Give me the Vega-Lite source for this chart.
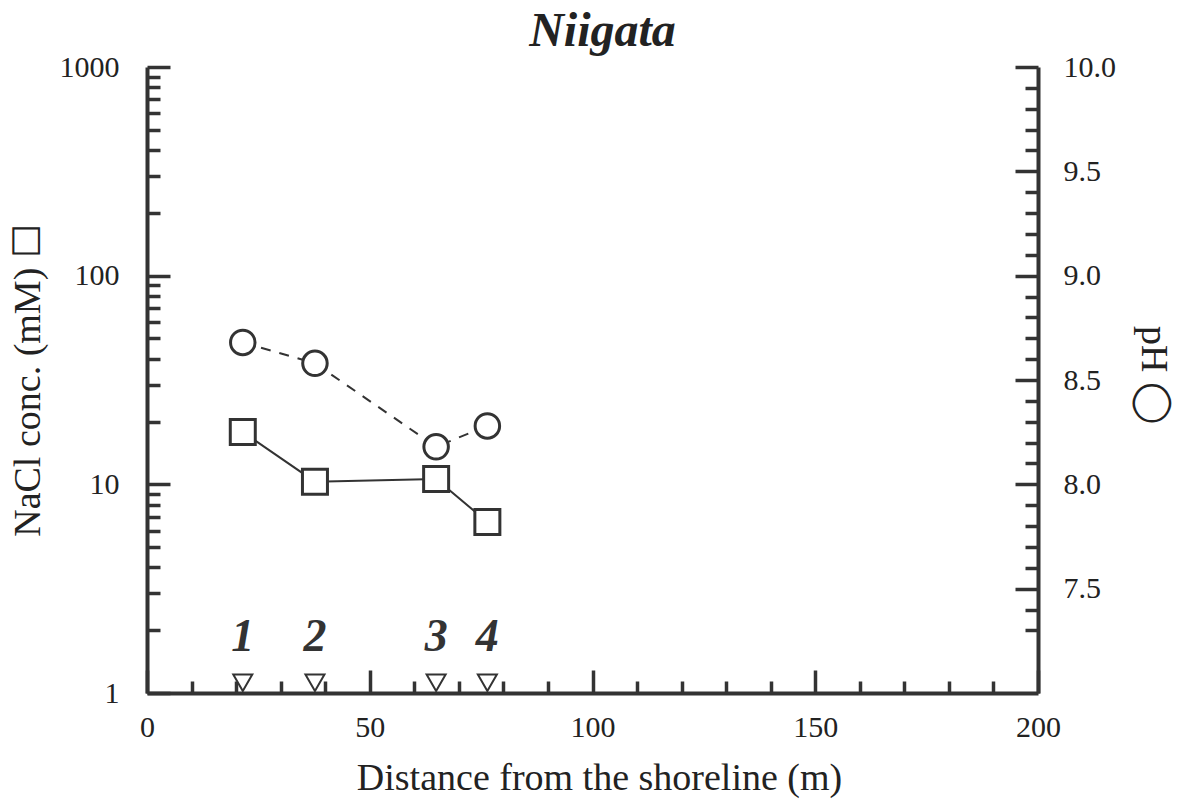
{
  "$schema": "https://vega.github.io/schema/vega-lite/v6.json",
  "width": 891,
  "height": 626,
  "autosize": "none",
  "padding": {"left": 147, "top": 67, "right": 139, "bottom": 116},
  "title": {
    "text": "Niigata",
    "font": "Liberation Serif",
    "fontSize": 48,
    "fontStyle": "italic",
    "fontWeight": "bold",
    "color": "#222",
    "anchor": "middle",
    "frame": "group",
    "baseline": "alphabetic",
    "offset": -42,
    "dx": 10
  },
  "config": {
    "view": {"stroke": null},
    "axis": {
      "grid": false,
      "domainColor": "#333",
      "domainWidth": 4,
      "tickColor": "#333",
      "tickWidth": 3.5,
      "tickCount": 1000,
      "labelFont": "Liberation Serif",
      "labelFontSize": 30,
      "labelColor": "#222",
      "titleFont": "Liberation Serif",
      "titleFontSize": 38,
      "titleFontWeight": "normal",
      "titleColor": "#222",
      "labelFlush": false,
      "labelOverlap": false
    }
  },
  "data": {
    "values": [
      {"site": "1", "distance": 21.5, "nacl": 17.8, "ph": 8.68},
      {"site": "2", "distance": 37.7, "nacl": 10.3, "ph": 8.58},
      {"site": "3", "distance": 64.9, "nacl": 10.6, "ph": 8.18},
      {"site": "4", "distance": 76.4, "nacl": 6.6, "ph": 8.28}
    ]
  },
  "encoding": {
    "x": {
      "field": "distance",
      "type": "quantitative",
      "scale": {"domain": [0, 200], "nice": false, "zero": true},
      "axis": {
        "orient": "bottom",
        "title": "Distance from the shoreline (m)",
        "tickCount": 1000,
        "values": [0, 10, 20, 30, 40, 50, 60, 70, 80, 90, 100, 110, 120, 130, 140, 150, 160, 170, 180, 190, 200],
        "labelExpr": "datum.value % 50 === 0 ? format(datum.value, 'd') : ''",
        "tickSize": {"condition": {"test": "datum.value % 50 === 0", "value": -23}, "value": -12},
        "labelPadding": 42,
        "titleX": 452,
        "titleY": 85,
        "titleAlign": "center",
        "titleBaseline": "middle"
      }
    }
  },
  "layer": [
    {
      "layer": [
        {
          "mark": {"type": "line", "color": "#333", "strokeWidth": 2},
          "encoding": {
            "y": {
              "field": "nacl",
              "type": "quantitative",
              "scale": {"type": "log", "domain": [1, 1000], "nice": false},
              "axis": {
                "orient": "left",
                "title": "NaCl conc. (mM) ☐",
                "tickCount": 1000,
                "values": [1, 2, 3, 4, 5, 6, 7, 8, 9, 10, 20, 30, 40, 50, 60, 70, 80, 90, 100, 200, 300, 400, 500, 600, 700, 800, 900, 1000],
                "labelExpr": "indexof([1, 10, 100, 1000], datum.value) >= 0 ? format(datum.value, 'd') : ''",
                "tickSize": {"condition": {"test": "indexof([1, 10, 100, 1000], datum.value) >= 0", "value": -23}, "value": -13},
                "labelPadding": 51,
                "titleX": -119,
                "titleY": 313,
                "titleAngle": -90,
                "titleAlign": "center",
                "titleBaseline": "middle"
              }
            }
          }
        },
        {
          "mark": {"type": "point", "shape": "square", "size": 625, "filled": true, "fill": "white", "stroke": "#333", "strokeWidth": 3, "opacity": 1},
          "encoding": {"y": {"field": "nacl", "type": "quantitative"}}
        },
        {
          "mark": {"type": "point", "shape": "triangle-down", "size": 361, "filled": true, "fill": "white", "stroke": "#333", "strokeWidth": 2, "opacity": 1},
          "encoding": {"y": {"datum": 1.12, "type": "quantitative"}}
        },
        {
          "mark": {"type": "text", "font": "Liberation Serif", "fontSize": 46, "fontStyle": "italic", "fontWeight": "bold", "color": "#333", "baseline": "middle"},
          "encoding": {
            "y": {"datum": 1.85, "type": "quantitative"},
            "text": {"field": "site"}
          }
        }
      ]
    },
    {
      "layer": [
        {
          "mark": {"type": "line", "color": "#333", "strokeWidth": 2, "strokeDash": [10, 9]},
          "encoding": {
            "y": {
              "field": "ph",
              "type": "quantitative",
              "scale": {"domain": [7, 10], "nice": false, "zero": false},
              "axis": {
                "orient": "right",
                "title": "pH ◯",
                "tickCount": 1000,
                "values": [7.3, 7.4, 7.5, 7.6, 7.7, 7.8, 7.9, 8, 8.1, 8.2, 8.3, 8.4, 8.5, 8.6, 8.7, 8.8, 8.9, 9, 9.1, 9.2, 9.3, 9.4, 9.5, 9.6, 9.7, 9.8, 9.9, 10],
                "labelExpr": "abs(datum.value * 2 - round(datum.value * 2)) < 0.001 ? format(datum.value, '.1f') : ''",
                "tickSize": {"condition": {"test": "abs(datum.value * 2 - round(datum.value * 2)) < 0.001", "value": -23}, "value": -13},
                "labelPadding": 48,
                "titleX": 114,
                "titleY": 308,
                "titleAngle": 90,
                "titleAlign": "center",
                "titleBaseline": "middle"
              }
            }
          }
        },
        {
          "mark": {"type": "point", "shape": "circle", "size": 600, "filled": true, "fill": "white", "stroke": "#333", "strokeWidth": 3, "opacity": 1},
          "encoding": {"y": {"field": "ph", "type": "quantitative"}}
        }
      ]
    }
  ],
  "resolve": {"scale": {"y": "independent"}}
}
